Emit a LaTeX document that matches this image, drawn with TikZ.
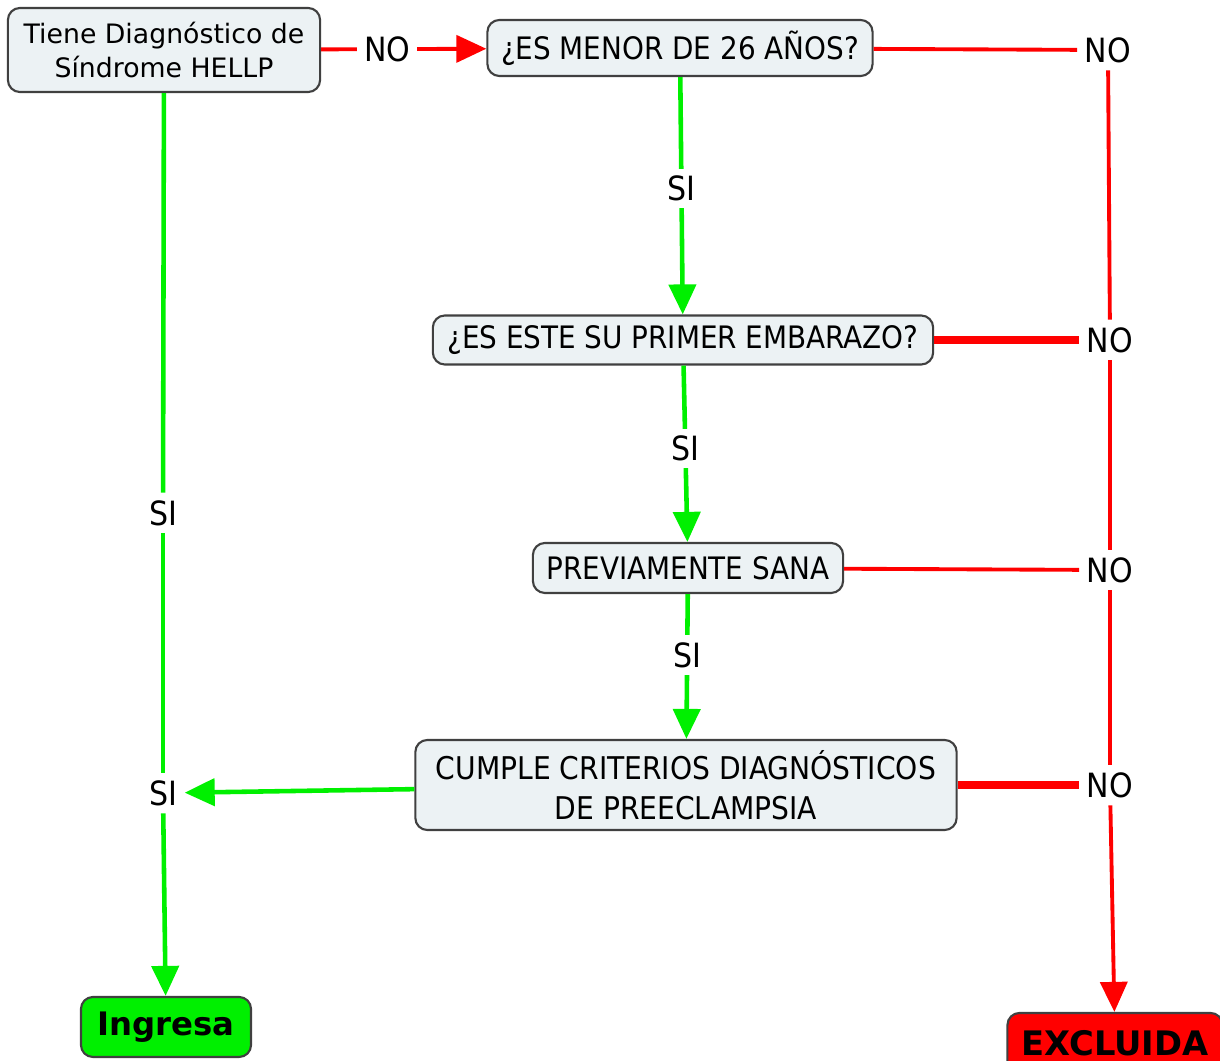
\documentclass[tikz,border=0pt]{standalone}
\usepackage{fontspec}
\setmainfont{DejaVu Sans}
\newfontfamily\condfont{DejaVu Sans Condensed}
\usetikzlibrary{arrows.meta}
\definecolor{boxfill}{RGB}{236,242,244}
\definecolor{sigreen}{RGB}{0,240,0}
\definecolor{nored}{RGB}{255,0,0}
\tikzset{>/.tip={Triangle[length=0.3cm,width=0.27cm]},
  concept/.style={draw=black!75, fill=boxfill, rounded corners=0.12cm, line width=0.6pt, align=center, inner sep=0pt},
  answer/.style={font=\fontsize{9.5}{11}\selectfont\condfont, text=black, inner sep=0.07cm, fill=white},
  yes/.style={color=sigreen, line width=1.3pt},
  no/.style={color=nored, line width=1.1pt},
  nothick/.style={color=nored, line width=2.4pt}}

\begin{document}
\begin{tikzpicture}[x=0.01cm,y=-0.01cm]
\useasboundingbox (0,0) rectangle (1220,1061);
\clip (0,0) rectangle (1220,1061);
\node[concept, minimum width=3.12cm, minimum height=0.84cm, font=\fontsize{7.6}{9.6}\selectfont] (HELLP) at (164,50) {Tiene Diagnóstico de\\Síndrome HELLP};
\node[concept, minimum width=3.85cm, minimum height=0.56cm, font=\fontsize{8.8}{10}\selectfont\condfont] (Q-edad) at (680,48) {¿ES MENOR DE 26 AÑOS?};
\node[concept, minimum width=5.00cm, minimum height=0.49cm, font=\fontsize{8.8}{10}\selectfont\condfont] (Q-embarazo) at (683,340) {¿ES ESTE SU PRIMER EMBARAZO?};
\node[concept, minimum width=3.10cm, minimum height=0.50cm, font=\fontsize{8.8}{10}\selectfont\condfont] (Q-sana) at (688,568) {PREVIAMENTE SANA};
\node[concept, minimum width=5.41cm, minimum height=0.90cm, font=\fontsize{8.9}{11.5}\selectfont\condfont] (Q-criterios) at (686,785) {CUMPLE CRITERIOS DIAGNÓSTICOS\\DE PREECLAMPSIA};
\node[concept, fill=sigreen, minimum width=1.70cm, minimum height=0.60cm, font=\fontsize{9.2}{11}\selectfont\bfseries] (Ingresa) at (166,1027) {Ingresa};
\node[concept, fill=nored, minimum width=2.15cm, minimum height=0.60cm, font=\fontsize{9.6}{11}\selectfont\bfseries] (Excluida) at (1115,1043) {EXCLUIDA};

% respuestas
\node[answer] (NO-1) at (1108,50) {NO};
\node[answer] (NO-2) at (1110,340) {NO};
\node[answer] (NO-3) at (1110,570) {NO};
\node[answer] (NO-4) at (1110,785) {NO};
\node[answer] (SI-1) at (163,513) {SI};
\node[answer] (SI-5) at (163,793) {SI};

\path[no,->] (HELLP) edge node[answer, pos=0.4] (NO-0) {NO} (Q-edad);
\path[yes,->] (Q-edad) edge node[answer, pos=0.47] (SI-2) {SI} (Q-embarazo);
\path[yes,->] (Q-embarazo) edge node[answer, pos=0.47] (SI-3) {SI} (Q-sana);
\path[yes,->] (Q-sana) edge node[answer, pos=0.42] (SI-4) {SI} (Q-criterios);
\path[yes,->] (Q-criterios) edge (SI-5);
\path[yes] (HELLP) edge (SI-1) (SI-1) edge (SI-5);
\path[yes,->] (SI-5) edge (Ingresa);

\path[no] (Q-edad) edge (NO-1) (Q-sana) edge (NO-3);
\path[nothick] (Q-embarazo) edge (NO-2) (Q-criterios) edge (NO-4);
\path[no] (NO-1) edge (NO-2) (NO-2) edge (NO-3) (NO-3) edge (NO-4);
\path[no,->] (NO-4) edge (Excluida);
\end{tikzpicture}
\end{document}
